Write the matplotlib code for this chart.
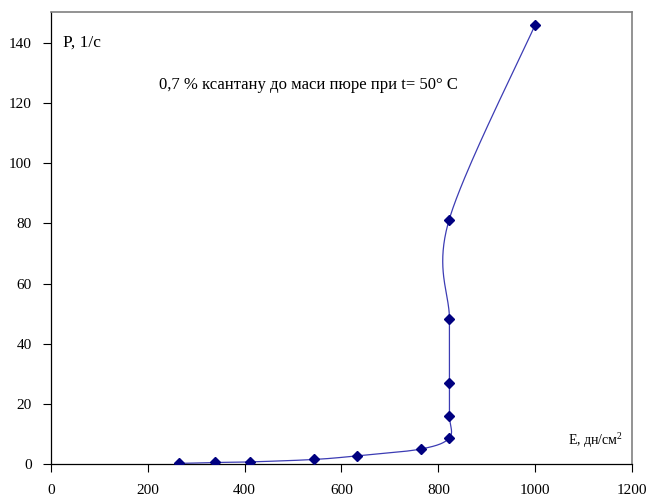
import numpy as np
import matplotlib
matplotlib.use("Agg")
import matplotlib.pyplot as plt

# shear stress E (dyn/cm2) vs shear rate P (1/s)
E_vals = [265, 338, 412, 543, 632, 765, 823, 823, 823, 823, 822, 1000]
P_vals = [0.3, 0.6, 0.8, 1.6, 2.8, 5.1, 8.8, 16.0, 26.9, 48.2, 81.0, 145.9]

x_ticks = [0, 200, 400, 600, 800, 1000, 1200]
y_ticks = [0, 20, 40, 60, 80, 100, 120, 140]


def excel_smooth(xs, ys, n=40):
    # Catmull-Rom style bezier, similar to Excel's "smoothed line"
    pts = np.column_stack([xs, ys]).astype(float)
    out = []
    for i in range(len(pts) - 1):
        p0 = pts[i - 1] if i > 0 else pts[i]
        p1 = pts[i]
        p2 = pts[i + 1]
        p3 = pts[i + 2] if i + 2 < len(pts) else pts[i + 1]
        c1 = p1 + (p2 - p0) / 6.0
        c2 = p2 - (p3 - p1) / 6.0
        t = np.linspace(0, 1, n)[:, None]
        seg = ((1 - t) ** 3) * p1 + 3 * ((1 - t) ** 2) * t * c1 + 3 * (1 - t) * t ** 2 * c2 + t ** 3 * p2
        out.append(seg if i == 0 else seg[1:])
    curve = np.vstack(out)
    return curve[:, 0], curve[:, 1]


plt.rcParams["font.family"] = ["Liberation Serif", "DejaVu Serif"]
plt.rcParams["mathtext.fontset"] = "custom"
plt.rcParams["mathtext.rm"] = "Liberation Serif"

fig = plt.figure(figsize=(6.51, 4.97), dpi=100)
ax = fig.add_axes([0.0783, 0.0658, 0.8925, 0.9092])

sx, sy = excel_smooth(E_vals, P_vals)
ax.plot(sx, sy, color="#3c3cb4", linewidth=0.9, zorder=2)
ax.plot(E_vals, P_vals, linestyle="none", marker="D", markersize=5,
        color="#000080", zorder=3)

ax.set_xlim(0, 1200)
ax.set_ylim(0, 150)
ax.set_xticks(x_ticks)
ax.set_yticks(y_ticks)
ax.tick_params(direction="out", length=6, width=0.8, labelsize=11, colors="black")
ax.tick_params(axis="x", pad=8)
ax.tick_params(axis="y", pad=8)

for side in ("top", "right"):
    ax.spines[side].set_color("#808080")
    ax.spines[side].set_linewidth(1.2)
for side in ("left", "bottom"):
    ax.spines[side].set_color("black")
    ax.spines[side].set_linewidth(0.9)

ax.text(25, 140, "P, 1/с", fontsize=12.5, ha="left", va="center")
ax.text(531, 126, "0,7 % ксантану до маси пюре при t= 50° C",
        fontsize=12, ha="center", va="center")
ax.text(1068, 8.1, "E, дн/см$^{\\mathrm{2}}$", fontsize=10, ha="left", va="center")

fig.savefig("out.png", dpi=100)
